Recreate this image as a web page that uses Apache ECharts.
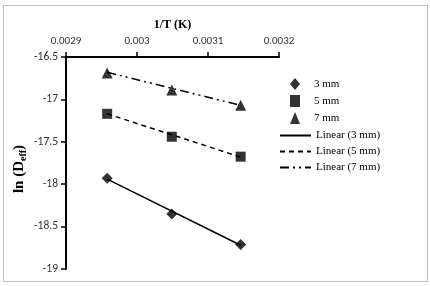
<!DOCTYPE html>
<html>
<head>
<meta charset="utf-8">
<script src="https://cdn.jsdelivr.net/npm/echarts@6.0.0/dist/echarts.min.js"></script>
<style>
html, body { margin: 0; padding: 0; background: #fff; }
#main { width: 430px; height: 286px; }
</style>
</head>
<body>
<div id="main"></div>
<script>
// 1/T values (K^-1) for the three drying temperatures
const invT = [0.002958, 0.003049, 0.003146];
// ln(Deff) for each sample thickness
const d3mm = [-17.93, -18.35, -18.71];
const d5mm = [-17.17, -17.44, -17.675];
const d7mm = [-16.69, -16.89, -17.07];
// trendline end values
const fit3mm = [-17.94, -18.72];
const fit5mm = [-17.17, -17.68];
const fit7mm = [-16.68, -17.07];

const pts = ys => invT.map((x, i) => [x, ys[i]]);
const ends = ys => [[invT[0], ys[0]], [invT[invT.length - 1], ys[1]]];

const serif = '"Liberation Serif", "DejaVu Serif", serif';
const sans = 'Carlito, "Liberation Sans", "DejaVu Sans", sans-serif';
const legendText = { fontFamily: serif, fontSize: 11, color: '#000' };

const chart = echarts.init(document.getElementById('main'));
chart.setOption({
	animation: false,
	graphic: [{
		type: 'rect',
		shape: { x: 3.5, y: 5.5, width: 424, height: 276 },
		style: { fill: 'none', stroke: '#bfbfbf', lineWidth: 1 },
	}],
	grid: { left: 66, top: 57, right: 151, bottom: 17 },
	legend: [{
		// marker entries
		orient: 'vertical',
		left: 285,
		top: 73,
		itemGap: 5,
		itemWidth: 10,
		itemHeight: 12,
		textStyle: Object.assign({ padding: [0, 0, 0, 9] }, legendText),
		data: [
			{ name: '3 mm', icon: 'diamond' },
			{ name: '5 mm', icon: 'rect' },
			{ name: '7 mm', icon: 'triangle' },
		],
	}, {
		// trendline entries
		orient: 'vertical',
		left: 274,
		top: 125,
		itemGap: 5,
		itemWidth: 31,
		itemHeight: 12,
		itemStyle: { opacity: 0 },
		textStyle: legendText,
		data: ['Linear (3 mm)', 'Linear (5 mm)', 'Linear (7 mm)'],
	}],
	xAxis: {
		type: 'value',
		position: 'top',
		min: 0.0029,
		max: 0.0032,
		interval: 0.0001,
		name: '1/T (K)',
		nameLocation: 'middle',
		nameGap: 26,
		nameTextStyle: { fontFamily: serif, fontWeight: 'bold', fontSize: 12, color: '#000' },
		axisLine: { lineStyle: { color: '#000', width: 2 } },
		axisTick: { show: true, length: 5, lineStyle: { color: '#000', width: 1.5 } },
		axisLabel: {
			fontFamily: sans, fontSize: 11, color: '#333', margin: 10,
			formatter: v => String(parseFloat(v.toFixed(4))),
		},
		splitLine: { show: false },
	},
	yAxis: {
		type: 'value',
		min: -19,
		max: -16.5,
		interval: 0.5,
		name: '{b|ln (D}{s|eff}{b|)}',
		nameLocation: 'middle',
		nameGap: 38,
		nameRotate: 90,
		nameTextStyle: {
			padding: [0, 12, 0, 0],
			rich: {
				b: { fontFamily: serif, fontWeight: 'bold', fontSize: 15, color: '#000' },
				s: { fontFamily: serif, fontWeight: 'bold', fontSize: 10, color: '#000', verticalAlign: 'bottom', padding: [7, 0, 0, 0] },
			},
		},
		axisLine: { onZero: false, lineStyle: { color: '#000', width: 2 } },
		axisTick: { show: true, length: 5, lineStyle: { color: '#000', width: 1.5 } },
		axisLabel: { fontFamily: sans, fontSize: 11.5, color: '#333', margin: 8 },
		splitLine: { show: false },
	},
	series: [
		{ name: '3 mm', type: 'scatter', symbol: 'diamond', symbolSize: 11, itemStyle: { color: '#000' }, data: pts(d3mm), z: 5 },
		{ name: '5 mm', type: 'scatter', symbol: 'rect', symbolSize: 10, itemStyle: { color: '#000' }, data: pts(d5mm), z: 5 },
		{ name: '7 mm', type: 'scatter', symbol: 'triangle', symbolSize: 11, itemStyle: { color: '#000' }, data: pts(d7mm), z: 5 },
		{ name: 'Linear (3 mm)', type: 'line', showSymbol: false, symbol: 'none', lineStyle: { color: '#000', width: 1.5, type: 'solid' }, itemStyle: { color: '#000' }, data: ends(fit3mm) },
		{ name: 'Linear (5 mm)', type: 'line', showSymbol: false, symbol: 'none', lineStyle: { color: '#000', width: 1.5, type: [5, 4] }, itemStyle: { color: '#000' }, data: ends(fit5mm) },
		{ name: 'Linear (7 mm)', type: 'line', showSymbol: false, symbol: 'none', lineStyle: { color: '#000', width: 1.5, type: [9, 4, 2, 4, 2, 4] }, itemStyle: { color: '#000' }, data: ends(fit7mm) },
	],
});
</script>
</body>
</html>
